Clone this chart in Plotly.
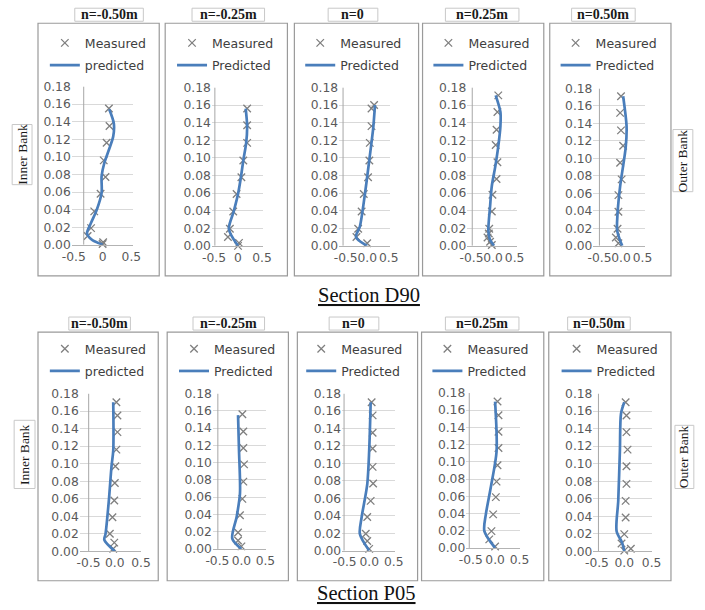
import plotly.graph_objects as go

# ---------------- DATA ----------------
section_labels = ["Section D90", "Section P05"]
panel_titles = ["n=-0.50m", "n=-0.25m", "n=0", "n=0.25m", "n=0.50m"]
measured_name = "Measured"
predicted_names = [
    ["predicted", "Predicted", "Predicted", "Predicted", "Predicted"],
    ["predicted", "Predicted", "Predicted", "Predicted", "Predicted"],
]
y_tick_vals = [0.00, 0.02, 0.04, 0.06, 0.08, 0.10, 0.12, 0.14, 0.16, 0.18]
x_tick_vals = [-0.5, 0.0, 0.5]
x_tick_text = [
    [["-0.5", "0", "0.5"], ["-0.5", "0", "0.5"], ["-0.5", "0.0", "0.5"],
     ["-0.5", "0.0", "0.5"], ["-0.5", "0.0", "0.5"]],
    [["-0.5", "0.0", "0.5"]] * 5,
]

# Section D90
d90_n050_meas_x = [0.11, 0.12, 0.07, 0.02, 0.05, -0.035, -0.145, -0.20, -0.26, 0.01, 0.0]
d90_n050_meas_y = [0.155, 0.135, 0.116, 0.096, 0.077, 0.058, 0.038, 0.019, 0.010, 0.003, 0.001]
d90_n050_pred_x = [0.115, 0.195, 0.184, 0.11, 0.03, -0.017, -0.017, -0.10, -0.20, -0.27, -0.19, 0.0]
d90_n050_pred_y = [0.154, 0.138, 0.123, 0.108, 0.093, 0.078, 0.059, 0.040, 0.025, 0.013, 0.006, 0.0]

d90_n025_meas_x = [0.19, 0.19, 0.19, 0.11, 0.07, -0.03, -0.10, -0.17, -0.21, 0.02, 0.0]
d90_n025_meas_y = [0.156, 0.137, 0.117, 0.097, 0.078, 0.059, 0.039, 0.0195, 0.010, 0.0034, 0.0]
d90_n025_pred_x = [0.16, 0.19, 0.17, 0.11, 0.06, 0.0, -0.09, -0.19, 0.0]
d90_n025_pred_y = [0.156, 0.136, 0.117, 0.097, 0.078, 0.059, 0.039, 0.019, 0.0]

d90_n000_meas_x = [0.16, 0.10, 0.10, 0.06, 0.05, 0.02, -0.08, -0.13, -0.21, -0.25, 0.0]
d90_n000_meas_y = [0.160, 0.156, 0.136, 0.117, 0.097, 0.078, 0.059, 0.039, 0.0195, 0.010, 0.003]
d90_n000_pred_x = [0.18, 0.14, 0.05, -0.05, -0.17, -0.26, 0.0]
d90_n000_pred_y = [0.160, 0.134, 0.098, 0.060, 0.022, 0.010, 0.0]

d90_p025_meas_x = [0.12, 0.10, 0.08, 0.06, 0.10, 0.08, -0.015, -0.03, -0.09, -0.10, -0.13, -0.07, -0.03]
d90_p025_meas_y = [0.171, 0.152, 0.132, 0.1145, 0.095, 0.076, 0.058, 0.039, 0.0195, 0.014, 0.0095, 0.0046, 0.001]
d90_p025_pred_x = [0.06, 0.17, 0.17, 0.12, 0.05, -0.03, -0.07, -0.11, -0.08, 0.02]
d90_p025_pred_y = [0.171, 0.152, 0.136, 0.113, 0.090, 0.068, 0.045, 0.018, 0.008, 0.0]

d90_p050_meas_x = [0.0, -0.02, 0.0, 0.05, -0.02, 0.015, -0.06, -0.06, -0.08, -0.12, -0.06]
d90_p050_meas_y = [0.171, 0.152, 0.132, 0.1145, 0.095, 0.076, 0.058, 0.039, 0.0195, 0.0095, 0.003]
d90_p050_pred_x = [0.05, 0.13, 0.11, -0.02, -0.08, -0.09, -0.02, 0.03]
d90_p050_pred_y = [0.171, 0.136, 0.113, 0.068, 0.037, 0.018, 0.006, 0.0]

# Section P05
p05_n050_meas_x = [0.03, 0.05, 0.05, 0.03, 0.01, 0.0, -0.01, -0.045, -0.095, -0.01, -0.03]
p05_n050_meas_y = [0.170, 0.155, 0.136, 0.116, 0.097, 0.078, 0.058, 0.039, 0.020, 0.010, 0.003]
p05_n050_pred_x = [-0.03, -0.03, -0.063, -0.114, -0.177, -0.20, 0.0]
p05_n050_pred_y = [0.170, 0.115, 0.097, 0.058, 0.020, 0.013, 0.0]

p05_n025_meas_x = [0.02, 0.04, 0.04, 0.055, 0.04, 0.02, -0.03, -0.07, -0.07, 0.0]
p05_n025_meas_y = [0.156, 0.136, 0.117, 0.098, 0.078, 0.058, 0.039, 0.019, 0.0097, 0.003]
p05_n025_pred_x = [-0.07, -0.05, -0.03, -0.10, -0.19, 0.0]
p05_n025_pred_y = [0.155, 0.114, 0.064, 0.037, 0.012, 0.0]

p05_n000_meas_x = [0.05, 0.07, 0.07, 0.07, 0.07, 0.08, 0.03, -0.04, -0.07, -0.04, 0.0]
p05_n000_meas_y = [0.170, 0.155, 0.135, 0.117, 0.096, 0.077, 0.057, 0.0385, 0.0193, 0.011, 0.002]
p05_n000_pred_x = [0.03, 0.0, -0.04, -0.155, -0.19, 0.0]
p05_n000_pred_y = [0.170, 0.115, 0.076, 0.038, 0.019, 0.0]

p05_p025_meas_x = [0.05, 0.07, 0.07, 0.07, 0.05, 0.03, 0.015, -0.04, -0.075, -0.12, 0.0]
p05_p025_meas_y = [0.170, 0.154, 0.135, 0.116, 0.096, 0.077, 0.059, 0.039, 0.0195, 0.010, 0.0016]
p05_p025_pred_x = [0.0, 0.03, -0.09, -0.19, -0.22, 0.0]
p05_p025_pred_y = [0.170, 0.112, 0.070, 0.039, 0.0195, 0.0]

p05_p050_meas_x = [0.025, 0.04, 0.04, 0.06, 0.04, 0.04, 0.025, 0.025, 0.0, -0.05, 0.12, 0.0]
p05_p050_meas_y = [0.170, 0.155, 0.136, 0.116, 0.097, 0.077, 0.0576, 0.0387, 0.0197, 0.009, 0.003, 0.0008]
p05_p050_pred_x = [0.0, -0.06, -0.08, -0.11, -0.14, -0.04, 0.0]
p05_p050_pred_y = [0.170, 0.157, 0.115, 0.058, 0.023, 0.010, 0.0]

series = [
    [(d90_n050_meas_x, d90_n050_meas_y, d90_n050_pred_x, d90_n050_pred_y),
     (d90_n025_meas_x, d90_n025_meas_y, d90_n025_pred_x, d90_n025_pred_y),
     (d90_n000_meas_x, d90_n000_meas_y, d90_n000_pred_x, d90_n000_pred_y),
     (d90_p025_meas_x, d90_p025_meas_y, d90_p025_pred_x, d90_p025_pred_y),
     (d90_p050_meas_x, d90_p050_meas_y, d90_p050_pred_x, d90_p050_pred_y)],
    [(p05_n050_meas_x, p05_n050_meas_y, p05_n050_pred_x, p05_n050_pred_y),
     (p05_n025_meas_x, p05_n025_meas_y, p05_n025_pred_x, p05_n025_pred_y),
     (p05_n000_meas_x, p05_n000_meas_y, p05_n000_pred_x, p05_n000_pred_y),
     (p05_p025_meas_x, p05_p025_meas_y, p05_p025_pred_x, p05_p025_pred_y),
     (p05_p050_meas_x, p05_p050_meas_y, p05_p050_pred_x, p05_p050_pred_y)],
]

# ---------------- LAYOUT GEOMETRY (target-picture pixels) ----------------
W, H = 705, 610                      # figure size
BODY_MARGIN = 8                      # page margin around the figure div
SX, SY = W / (W + 2 * BODY_MARGIN), H / (H + 2 * BODY_MARGIN)   # page -> picture scale
# L,R: gridline extent; x0: pixel of x=0; ux: px per unit; ax: vertical axis line; yb/yt: y=0 / y=0.18
geom = [
    [dict(L=70, R=132, x0=101.0, ux=58.0, ax=82, yb=245, yt=87),
     dict(L=211, R=262, x0=237.3, ux=48.3, ax=214, yb=246, yt=88),
     dict(L=339, R=390, x0=367.3, ux=43.3, ax=343, yb=246, yt=88),
     dict(L=468, R=518, x0=494.0, ux=43.3, ax=473, yb=246, yt=88),
     dict(L=595, R=647, x0=622.7, ux=43.3, ax=601, yb=246, yt=89)],
    [dict(L=78, R=140, x0=113.3, ux=52.7, ax=87, yb=550.7, yt=393.3),
     dict(L=212, R=265, x0=240.7, ux=48.3, ax=217, yb=548.3, yt=393.3),
     dict(L=342, R=395, x0=369.3, ux=49.3, ax=344, yb=550, yt=393.3),
     dict(L=467, R=521, x0=496.0, ux=49.0, ax=470, yb=547.3, yt=392.7),
     dict(L=595, R=654, x0=626.0, ux=55.0, ax=600, yb=550.7, yt=393.3)],
]
panel_boxes = [
    [(36, 24, 158, 276), (164, 24, 287, 276), (294, 24, 419, 276), (423, 24, 545, 276), (551, 24, 673, 276)],
    [(36, 332, 157, 580), (166, 332, 288, 580), (297, 332, 418, 580), (422, 332, 545, 580), (550, 332, 673, 580)],
]
title_boxes = [
    [(73, 9, 142, 22), (191, 9, 264, 22), (328, 9, 378, 22), (446, 9, 520, 22), (573, 9, 637, 22)],
    [(67, 317, 129, 330), (192, 317, 264, 330), (329, 317, 379, 330), (446, 317, 520, 330), (569, 317, 632, 330)],
]
legend_text_x = [[82, 210, 339, 468, 596], [82, 212, 340, 467, 597]]
legend_top = [29, 334]
bank_boxes = [
    [("Inner Bank", (10, 125, 30, 185)), ("Outer Bank", (675, 130, 695, 192))],
    [("Inner Bank", (12, 420, 33, 488)), ("Outer Bank", (677, 425, 696, 488))],
]
section_pos = [(369, 295), (367, 592)]

def fx(p):
    return (p / SX - BODY_MARGIN) / W

def fy(p):
    return 1 - (p / SY - BODY_MARGIN) / H

fig = go.Figure()
shapes = []
annotations = []
layout_extra = {}

tick_font = dict(family="DejaVu Sans", size=12.3, color="#595959")
leg_font = dict(family="DejaVu Sans", size=12.5, color="#404040")

idx = 0
for r in range(2):
    for c in range(5):
        idx += 1
        g = geom[r][c]
        mx, my, px_, py_ = series[r][c]
        xs = "" if idx == 1 else str(idx)
        lg = "legend" if idx == 1 else f"legend{idx}"

        fig.add_trace(go.Scatter(
            x=mx, y=my, mode="markers", name=measured_name,
            marker=dict(symbol="x-thin", size=7.5, color="#7f7f7f",
                        line=dict(width=1.3, color="#7f7f7f")),
            xaxis=f"x{xs}", yaxis=f"y{xs}", legend=lg, legendgroup=f"m{idx}",
            cliponaxis=False, showlegend=True))
        fig.add_trace(go.Scatter(
            x=px_, y=py_, mode="lines", name=predicted_names[r][c],
            line=dict(color="#4a7ebb", width=2.7, shape="spline", smoothing=0.8),
            xaxis=f"x{xs}", yaxis=f"y{xs}", legend=lg, legendgroup=f"p{idx}",
            cliponaxis=False, showlegend=True))

        layout_extra[f"xaxis{xs}"] = dict(
            domain=[fx(g["L"]), fx(g["R"])],
            range=[(g["L"] - g["x0"]) / g["ux"], (g["R"] - g["x0"]) / g["ux"]],
            tickmode="array", tickvals=x_tick_vals, ticktext=x_tick_text[r][c],
            tickangle=0, showgrid=False, zeroline=False, showline=True,
            linecolor="#b3b3b3", linewidth=1, ticks="", tickfont=tick_font,
            anchor=f"y{xs}", fixedrange=True)
        layout_extra[f"yaxis{xs}"] = dict(
            domain=[fy(g["yb"]), fy(g["yt"])], range=[0, 0.18],
            tickmode="array", tickvals=y_tick_vals, tickformat=".2f",
            showgrid=True, gridcolor="#d9d9d9", gridwidth=1, zeroline=False,
            showline=False, ticks="", tickfont=tick_font,
            anchor=f"x{xs}", fixedrange=True)
        layout_extra[lg] = dict(
            x=(legend_text_x[r][c] / SX - BODY_MARGIN - 40) / W, y=fy(legend_top[r]),
            xanchor="left", yanchor="top", bgcolor="rgba(0,0,0,0)",
            borderwidth=0, font=leg_font, tracegroupgap=3,
            traceorder="grouped", itemwidth=30)

        # vertical axis line
        axv = (g["ax"] - g["x0"]) / g["ux"]
        shapes.append(dict(type="line", xref=f"x{xs}", yref=f"y{xs}",
                           x0=axv, x1=axv, y0=0, y1=0.18,
                           line=dict(color="#a6a6a6", width=1)))
        # panel border
        bx0, by0, bx1, by1 = panel_boxes[r][c]
        shapes.append(dict(type="rect", xref="paper", yref="paper",
                           x0=fx(bx0), x1=fx(bx1), y0=fy(by1), y1=fy(by0),
                           line=dict(color="#9a9a9a", width=1.2), layer="below"))
        # title box
        tx0, ty0, tx1, ty1 = title_boxes[r][c]
        shapes.append(dict(type="rect", xref="paper", yref="paper",
                           x0=fx(tx0), x1=fx(tx1), y0=fy(ty1), y1=fy(ty0),
                           line=dict(color="#c8c8c8", width=1), fillcolor="white",
                           layer="below"))
        annotations.append(dict(text=f"<b>{panel_titles[c]}</b>", xref="paper", yref="paper",
                                x=fx((tx0 + tx1) / 2), y=fy((ty0 + ty1) / 2),
                                xanchor="center", yanchor="middle", showarrow=False,
                                font=dict(family="Liberation Serif", size=14, color="#1a1a1a")))

for r in range(2):
    for name, (bx0, by0, bx1, by1) in bank_boxes[r]:
        shapes.append(dict(type="rect", xref="paper", yref="paper",
                           x0=fx(bx0), x1=fx(bx1), y0=fy(by1), y1=fy(by0),
                           line=dict(color="#c8c8c8", width=1), layer="below"))
        annotations.append(dict(text=name, xref="paper", yref="paper",
                                x=fx((bx0 + bx1) / 2), y=fy((by0 + by1) / 2),
                                xanchor="center", yanchor="middle", showarrow=False,
                                textangle=-90,
                                font=dict(family="Liberation Serif", size=13.5, color="#1a1a1a")))
    sx, sy = section_pos[r]
    annotations.append(dict(text=f"<u>{section_labels[r]}</u>", xref="paper", yref="paper",
                            x=fx(sx), y=fy(sy), xanchor="center", yanchor="middle",
                            showarrow=False,
                            font=dict(family="Liberation Serif", size=20.5, color="#111111")))

fig.update_layout(
    width=W, height=H, autosize=False,
    margin=dict(l=0, r=0, t=0, b=0, pad=0),
    paper_bgcolor="white", plot_bgcolor="white",
    shapes=shapes, annotations=annotations,
    **layout_extra,
)

fig.write_html("out.html", config={"displayModeBar": False})
